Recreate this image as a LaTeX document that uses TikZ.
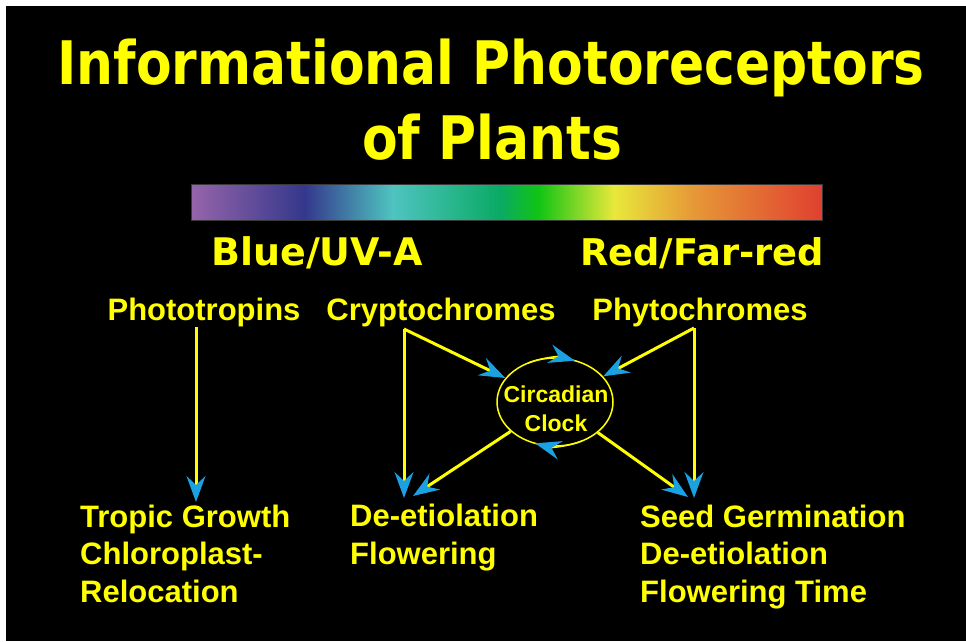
\documentclass[tikz,border=0pt]{standalone}
\usepackage{fontspec}
\usetikzlibrary{arrows.meta, shapes.geometric}
\newfontfamily\titlefont{DejaVu Sans}[FakeStretch=0.865]
\newfontfamily\bandfont{DejaVu Sans}
\newfontfamily\tagfont{Liberation Sans}
\definecolor{slideyellow}{HTML}{FFFF00}
\definecolor{tipblue}{HTML}{1BA0E2}
\definecolor{specA}{HTML}{9664AA}
\definecolor{specB}{HTML}{34388C}
\definecolor{specC}{HTML}{4EC4C0}
\definecolor{specD}{HTML}{0AAA64}
\definecolor{specE}{HTML}{10C414}
\definecolor{specF}{HTML}{E8E83A}
\definecolor{specG}{HTML}{E69637}
\definecolor{specH}{HTML}{E04030}
\pgfdeclarehorizontalshading{spectrum}{100bp}{color(0bp)=(specA); color(25bp)=(specA);
  color(34bp)=(specB); color(41bp)=(specC); color(49.5bp)=(specD); color(52.5bp)=(specE);
  color(58.5bp)=(specF); color(65bp)=(specG); color(75bp)=(specH); color(100bp)=(specH)}

\begin{document}
\begin{tikzpicture}[x=1pt, y=-1pt,
    headline/.style={text=slideyellow, inner sep=0, anchor=base,
                 font=\titlefont\bfseries\fontsize{60}{72}\selectfont},
    bandtxt/.style={text=slideyellow, inner sep=0, anchor=base,
                 font=\bandfont\bfseries\fontsize{38}{44}\selectfont},
    recep/.style={text=slideyellow, inner sep=0, anchor=base,
                 font=\tagfont\bfseries\fontsize{31}{37}\selectfont},
    effect/.style={text=slideyellow, inner sep=0, anchor=base west, align=left,
                 font=\tagfont\bfseries\fontsize{31}{37.5}\selectfont},
    clockring/.style={ellipse, draw=slideyellow, line width=1.5, inner sep=0,
                 minimum width=116, minimum height=88},
    clocktxt/.style={text=slideyellow, inner sep=0, align=center,
                 font=\tagfont\bfseries\fontsize{23}{29}\selectfont},
    spectrumbar/.style={shade, shading=spectrum, draw=gray!45!black, line width=1,
                 minimum width=631, minimum height=36, inner sep=0},
    arr/.style={draw=slideyellow, line width=3,
                -{Stealth[length=26, width=19, inset=9, color=tipblue]}},
    ringarr/.style={draw=slideyellow, line width=1.5,
                -{Stealth[length=26, width=19, inset=9, color=tipblue]}}
  ]
    \useasboundingbox (0,0) rectangle (966,641);
    \fill[white] (0,0) rectangle (966,641);
    \fill[black] (6,6) rectangle (966,641);

    % title and spectrum
    \node[headline] (title) at (491,84) {Informational Photoreceptors};
    \node[headline] (title2) at (492,159) {of Plants};
    \node[spectrumbar] (bar) at (506.5,202) {};
    \node[bandtxt] (blue) at (317,265) {Blue/UV-A};
    \node[bandtxt, font=\bandfont\bfseries\fontsize{36.8}{44}\selectfont] (red) at (702,265) {Red/Far-red};

    % photoreceptors
    \node[recep] (photot) at (204,320) {Phototropins};
    \node[recep] (crypto) at (441,320) {Cryptochromes};
    \node[recep] (phyto) at (700,320) {Phytochromes};
    \node[clockring] (clock) at (555,402) {};
    \node[clocktxt] (clocklbl) at (556,409) {Circadian\\Clock};

    % responses (anchored on the last line)
    \node[effect] (tropic) at (80,602) {Tropic Growth\\Chloroplast-\\Relocation};
    \node[effect] (deet) at (350,564) {De-etiolation\\Flowering};
    \node[effect] (seed) at (640,602) {Seed Germination\\De-etiolation\\Flowering Time};

    \coordinate (photofoot) at (196,327);
    \coordinate (cryfoot) at (404,329);
    \coordinate (phyfoot) at (694,328);
    \coordinate (tropictip) at (196,502);
    \coordinate (deettip) at (404,498);
    \coordinate (deettip2) at (413,496);
    \coordinate (seedtip) at (688,497);
    \coordinate (seedtip2) at (694,498);

    \draw[arr] (photofoot) -- (tropictip);
    \draw[arr] (cryfoot) -- (deettip);
    \draw[arr] (cryfoot) -- (clock);
    \draw[arr] (phyfoot) -- (seedtip2);
    \draw[arr] (phyfoot) -- (clock);
    \draw[arr] (clock) -- (deettip2);
    \draw[arr] (clock) -- (seedtip);

    % clock cycle
    \draw[ringarr] (clock.center) ++(-118:58 and 44) arc[start angle=-118, end angle=-70, x radius=58, y radius=44];
    \draw[ringarr] (clock.center) ++(62:58 and 44) arc[start angle=62, end angle=110, x radius=58, y radius=44];
  \end{tikzpicture}
\end{document}
